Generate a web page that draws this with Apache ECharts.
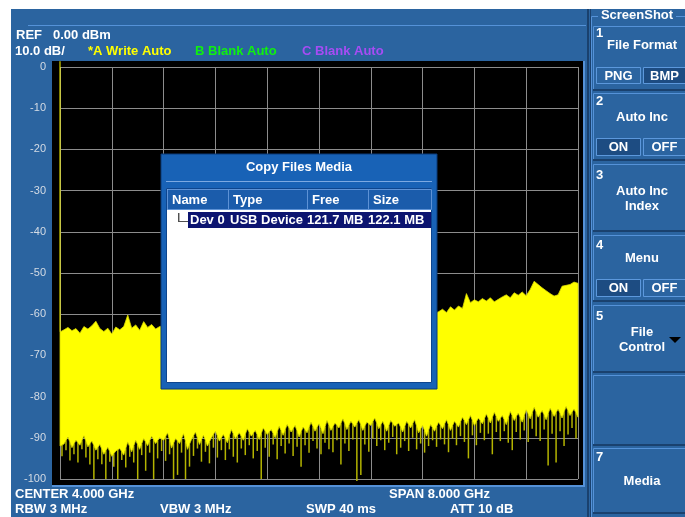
<!DOCTYPE html>
<html><head><meta charset="utf-8">
<script src="https://cdn.jsdelivr.net/npm/echarts@6/dist/echarts.min.js"></script>
<style>html,body{margin:0;padding:0;background:#fff}#c{width:685px;height:517px}</style>
</head><body><div id="c"></div><script>
// ---- data ----
const FREQ_START_GHZ = 0;
const FREQ_STOP_GHZ = 8;
const REF_DBM = 0;
const BOTTOM_DBM = -100;
const DB_PER_DIV = 10;
const FREQ_DIVS = 10;

// upper envelope of the trace (dBm), evenly spaced from start to stop
const upperDbm = [
-64.3,-63.8,-63.2,-64.0,-63.5,-64.6,-63.0,-63.6,-62.8,-61.7,
-63.5,-64.2,-63.4,-64.8,-63.1,-63.8,-63.0,-60.2,-63.4,-62.6,
-63.9,-61.8,-63.2,-62.5,-63.6,-63.0,-62.8,-63.4,-62.2,-63.0,
-62.5,-61.6,-62.9,-62.0,-62.6,-61.8,-62.4,-61.5,-62.2,-61.2,
-62.0,-61.4,-61.9,-60.8,-61.6,-61.0,-61.7,-60.6,-61.3,-60.9,
-61.5,-60.4,-61.1,-60.7,-61.2,-60.2,-60.9,-60.5,-61.0,-60.1,
-60.8,-60.3,-60.9,-59.9,-60.6,-60.2,-60.7,-59.8,-60.4,-60.0,
-60.5,-59.6,-60.3,-59.9,-60.4,-59.5,-60.1,-59.7,-60.2,-59.4,
-60.0,-59.6,-60.1,-59.3,-59.9,-59.5,-60.0,-59.2,-59.8,-59.4,
-59.9,-59.1,-59.7,-59.3,-59.8,-59.4,-58.8,-59.6,-58.2,-59.0,
-58.0,-58.6,-55.0,-57.2,-56.5,-57.0,-56.2,-56.8,-56.0,-57.0,
-56.4,-55.8,-55.3,-56.0,-54.8,-55.4,-54.6,-55.5,-54.0,-52.0,
-52.8,-53.6,-54.3,-55.0,-55.6,-55.3,-53.2,-53.0,-52.8,-52.2,
-52.5];

// lower envelope of the trace (dBm)
const lowerDbm = [
-92.0,-91.5,-89.8,-92.4,-90.6,-91.8,-89.5,-92.2,-90.8,-93.0,
-91.6,-94.0,-92.3,-94.5,-93.2,-92.6,-94.2,-91.0,-93.4,-90.6,
-92.8,-90.2,-91.9,-89.6,-91.4,-90.0,-90.6,-88.8,-92.5,-90.2,
-91.4,-89.0,-92.8,-90.4,-88.6,-91.6,-89.4,-92.0,-90.0,-88.4,
-90.8,-89.2,-91.2,-88.0,-90.2,-88.8,-90.6,-87.8,-89.6,-88.2,
-90.4,-87.6,-89.2,-88.0,-90.0,-87.2,-89.4,-86.8,-88.6,-87.0,
-89.8,-87.4,-88.8,-86.2,-88.4,-86.6,-89.0,-85.8,-88.2,-86.4,
-87.6,-85.4,-88.0,-86.0,-87.4,-85.6,-88.2,-86.2,-87.0,-85.2,
-87.8,-86.0,-88.4,-85.8,-87.2,-86.4,-88.6,-86.0,-87.6,-85.6,
-88.8,-87.0,-89.6,-86.8,-88.4,-86.2,-87.8,-85.6,-88.2,-86.0,
-87.4,-85.0,-86.8,-84.6,-87.0,-85.2,-86.6,-84.2,-86.4,-83.8,
-86.0,-84.6,-86.8,-83.6,-85.8,-84.0,-86.2,-83.2,-85.4,-82.6,
-85.0,-83.4,-85.6,-82.8,-84.8,-83.0,-85.2,-82.4,-84.6,-83.0,
-85.0];

// deepest point of the noise dips between neighbouring samples (dBm)
const dipDbm = [
-94.5,-93.0,-95.5,-94.0,-96.0,-92.8,-94.8,-96.5,-100,-95.2,
-96.4,-100,-95.8,-97.0,-100,-95.4,-97.2,-94.6,-96.0,-100,
-94.2,-98,-93.6,-100,-95.0,-93.2,-95.6,-94.0,-100,-99,
-93.6,-100,-97,-94.4,-92.6,-95.8,-93.4,-96.2,-92.4,-94.8,
-93.0,-95.4,-92.8,-94.6,-96.0,-92.6,-94.2,-91.8,-95.0,-93.2,
-100,-92.4,-94.6,-91.6,-95.2,-92.0,-93.8,-91.4,-94.4,-92.2,
-97,-91.8,-93.6,-90.8,-92.6,-94.0,-91.2,-92.8,-93.5,-90.6,
-96.5,-91.4,-93.2,-90.4,-100.5,-99,-91.6,-93.4,-90.2,-92.0,
-90.6,-93.0,-91.2,-89.8,-94,-92.4,-90.8,-93.2,-90.0,-92.8,
-91.4,-93.6,-92.0,-90.6,-92.2,-90.4,-91.6,-93.5,-90.2,-91.8,
-89.6,-91.0,-95,-89.4,-91.8,-88.8,-90.6,-89.0,-94,-88.6,
-90.8,-88.4,-91.2,-93,-88.6,-90.4,-88.2,-91.0,-87.8,-89.6,
-90.8,-88.0,-96.7,-89.0,-96,-88.4,-92,-89.2,-87.6,-90.2];

// LO feed-through at the start frequency (top, bottom in dBm)
const carrierFreqGHz = [0, 0];
const carrierDbm = [1.4, -64.3];

// ---- derived ----
const step = (FREQ_STOP_GHZ - FREQ_START_GHZ) / (upperDbm.length - 1);
const freqs = upperDbm.map((_, i) => FREQ_START_GHZ + i * step);
const traceData = freqs.map((f, i) => [f, upperDbm[i], lowerDbm[i]]);
const dipData = dipDbm.map((d, j) => [freqs[j] + step / 2, (lowerDbm[j] + lowerDbm[j + 1]) / 2, d]);
const carrierData = carrierDbm.map((d, i) => [carrierFreqGHz[i], d]);

// ---- decoration helpers ----
const FONT = '"Liberation Sans", Arial, sans-serif';
function T(x, y, text, o) {
  o = o || {};
  const al = o.align || 'left';
  return { type: 'text', x: x, y: y, z: o.z || 10, silent: true,
    style: { text: text, fill: o.fill || '#ffffff',
      font: (o.bold === false ? '' : 'bold ') + (o.size || 13) + 'px ' + FONT,
      align: al, textAlign: al, verticalAlign: 'middle', textVerticalAlign: 'middle' } };
}
function R(x, y, w, h, fill, stroke, lw, z) {
  return { type: 'rect', z: z || 1, silent: true, shape: { x: x, y: y, width: w, height: h },
    style: { fill: fill || 'none', stroke: stroke || 'none', lineWidth: lw || 0 } };
}
function L(x1, y1, x2, y2, stroke, lw, z) {
  return { type: 'line', z: z || 2, silent: true, shape: { x1: x1, y1: y1, x2: x2, y2: y2 },
    style: { stroke: stroke, lineWidth: lw || 1 } };
}

const LIGHT = '#5592d8', DARK = '#1a416e', BLUE = '#2b64a0';
const g = [];
// page frame
g.push(R(0, 0, 685, 9, '#ffffff', null, 0, 0));
g.push(R(0, 0, 11, 517, '#ffffff', null, 0, 0));
g.push(L(28, 25.5, 586, 25.5, LIGHT, 1));
// plot black background
g.push(R(52, 61, 531, 424, '#000000', null, 0, -5));
g.push(L(584, 61, 584, 486, LIGHT, 2));
g.push(L(52, 486, 585, 486, LIGHT, 2));
g.push(L(588, 9, 588, 517, DARK, 2));
g.push(L(590.5, 9, 590.5, 517, DARK, 1));
// header texts
g.push(T(16, 35, 'REF'));
g.push(T(53, 35, '0.00 dBm'));
g.push(T(15, 51, '10.0 dB/'));
g.push(T(88, 51, '*A Write Auto', { fill: '#ffff00' }));
g.push(T(195, 51, 'B Blank Auto', { fill: '#10f010' }));
g.push(T(302, 51, 'C Blank Auto', { fill: '#a64cf4' }));
// footer texts
g.push(T(15, 494, 'CENTER 4.000 GHz'));
g.push(T(389, 494, 'SPAN 8.000 GHz'));
g.push(T(15, 509, 'RBW 3 MHz'));
g.push(T(160, 509, 'VBW 3 MHz'));
g.push(T(306, 509, 'SWP 40 ms'));
g.push(T(450, 509, 'ATT 10 dB'));

// right soft-key panel
g.push(L(591.5, 16.5, 598, 16.5, LIGHT, 1));
g.push(L(676, 16.5, 685, 16.5, LIGHT, 1));
g.push(L(591.5, 16.5, 591.5, 517, LIGHT, 1));
g.push(T(637, 15, 'ScreenShot', { align: 'center' }));
const panels = [[26, 89], [93, 159], [164, 230], [235, 300], [305, 371], [375, 444], [448, 512]];
panels.forEach(function (p) {
  g.push(L(593.5, p[1], 593.5, p[0] + 0.5, LIGHT, 1));
  g.push(L(593.5, p[0] + 0.5, 685, p[0] + 0.5, LIGHT, 1));
  g.push(L(593, p[1] + 1, 685, p[1] + 1, DARK, 2));
});
function button(x, y, w, h, label, on) {
  g.push(R(x + 0.5, y + 0.5, w, h, on ? '#1d4c82' : BLUE, '#5c98dc', 1, 3));
  g.push(T(x + w / 2 + 0.5, y + h / 2 + 1, label, { align: 'center', z: 11 }));
}
g.push(T(596, 33, '1'));
g.push(T(642, 45, 'File Format', { align: 'center' }));
button(596, 67, 44, 16, 'PNG', false);
button(643, 67, 42, 16, 'BMP', true);
g.push(T(596, 101, '2'));
g.push(T(642, 117, 'Auto Inc', { align: 'center' }));
button(596, 138, 44, 17, 'ON', true);
button(643, 138, 42, 17, 'OFF', false);
g.push(T(596, 175, '3'));
g.push(T(642, 191, 'Auto Inc', { align: 'center' }));
g.push(T(642, 206, 'Index', { align: 'center' }));
g.push(T(596, 245, '4'));
g.push(T(642, 258, 'Menu', { align: 'center' }));
button(596, 279, 44, 17, 'ON', true);
button(643, 279, 42, 17, 'OFF', false);
g.push(T(596, 316, '5'));
g.push(T(642, 332, 'File', { align: 'center' }));
g.push(T(642, 347, 'Control', { align: 'center' }));
g.push({ type: 'polygon', z: 5, silent: true, shape: { points: [[669, 337], [681, 337], [675, 343]] }, style: { fill: '#000000' } });
g.push(T(596, 457, '7'));
g.push(T(642, 481, 'Media', { align: 'center' }));

// dialog overlay
const DZ = 100;
g.push(R(161, 154, 276, 235, '#1862b6', '#0b3a78', 1, DZ));
g.push(T(299, 167, 'Copy Files Media', { align: 'center', z: DZ + 5 }));
g.push(L(166, 181.5, 432, 181.5, '#7ba9e2', 1, DZ + 1));
g.push(R(166.5, 188.5, 265, 194, '#ffffff', '#0d458e', 1, DZ + 1));
const cols = [[167, 228, 'Name'], [228, 307, 'Type'], [307, 368, 'Free'], [368, 431, 'Size']];
cols.forEach(function (c) {
  g.push(R(c[0] + 0.5, 189.5, c[1] - c[0], 20, '#1b5cab', '#5d92d6', 1, DZ + 2));
  g.push(T(c[0] + 5, 200, c[2], { z: DZ + 5 }));
});
g.push(R(188, 212, 243, 16, '#0c1470', null, 0, DZ + 2));
g.push(L(178.5, 213, 178.5, 222, '#505050', 1, DZ + 3));
g.push(L(178.5, 221.5, 188, 221.5, '#505050', 1, DZ + 3));
g.push(L(179.5, 213, 179.5, 221, '#b0b0b0', 1, DZ + 3));
g.push(T(190, 220, 'Dev 0', { z: DZ + 5 }));
g.push(T(230, 220, 'USB Device', { z: DZ + 5 }));
g.push(T(307, 220, '121.7 MB', { z: DZ + 5 }));
g.push(T(368, 220, '122.1 MB', { z: DZ + 5 }));

const chart = echarts.init(document.getElementById('c'), null, { renderer: 'canvas' });
chart.setOption({
  animation: false,
  backgroundColor: BLUE,
  grid: { left: 60, top: 67, width: 518, height: 412, containLabel: false },
  xAxis: {
    type: 'value', min: FREQ_START_GHZ, max: FREQ_STOP_GHZ,
    interval: (FREQ_STOP_GHZ - FREQ_START_GHZ) / FREQ_DIVS,
    axisLabel: { show: false }, axisTick: { show: false }, axisLine: { show: false },
    splitLine: { show: true, lineStyle: { color: '#8c8c8c', width: 1 } }
  },
  yAxis: {
    type: 'value', min: BOTTOM_DBM, max: REF_DBM, interval: DB_PER_DIV,
    axisLabel: { color: '#d4dbe4', fontSize: 11, fontFamily: FONT, margin: 14 },
    axisTick: { show: false }, axisLine: { show: false },
    splitLine: { show: true, lineStyle: { color: '#8c8c8c', width: 1 } }
  },
  graphic: { elements: g },
  series: [
    {
      type: 'custom', name: 'dips', z: 2, clip: false, silent: true,
      encode: { x: 0, y: [1, 2] },
      data: dipData,
      renderItem: function (params, api) {
        const a = api.coord([api.value(0), api.value(1)]);
        const b = api.coord([api.value(0), api.value(2)]);
        return { type: 'line', shape: { x1: a[0], y1: a[1], x2: b[0], y2: b[1] },
          style: { stroke: '#b4b400', lineWidth: 1.5 } };
      }
    },
    {
      // trace A: filled band between the upper and lower envelopes
      type: 'custom', name: 'trace A', z: 3, clip: false, silent: true,
      encode: { x: 0, y: [1, 2] },
      data: traceData,
      renderItem: function (params, api) {
        if (params.dataIndex !== 0) return null;
        const top = [], bot = [];
        for (let i = 0; i < traceData.length; i++) {
          top.push(api.coord([traceData[i][0], traceData[i][1]]));
          bot.push(api.coord([traceData[i][0], traceData[i][2]]));
        }
        const pts = top.concat(bot.reverse());
        return { type: 'polygon', shape: { points: pts },
          style: { fill: '#ffff00', stroke: '#d8d800', lineWidth: 0.8 } };
      }
    },
    {
      type: 'line', name: 'carrier', z: 4, clip: false,
      data: carrierData, symbol: 'none', silent: true,
      lineStyle: { color: '#ffff00', width: 1 }
    }
  ]
});
</script></body></html>
